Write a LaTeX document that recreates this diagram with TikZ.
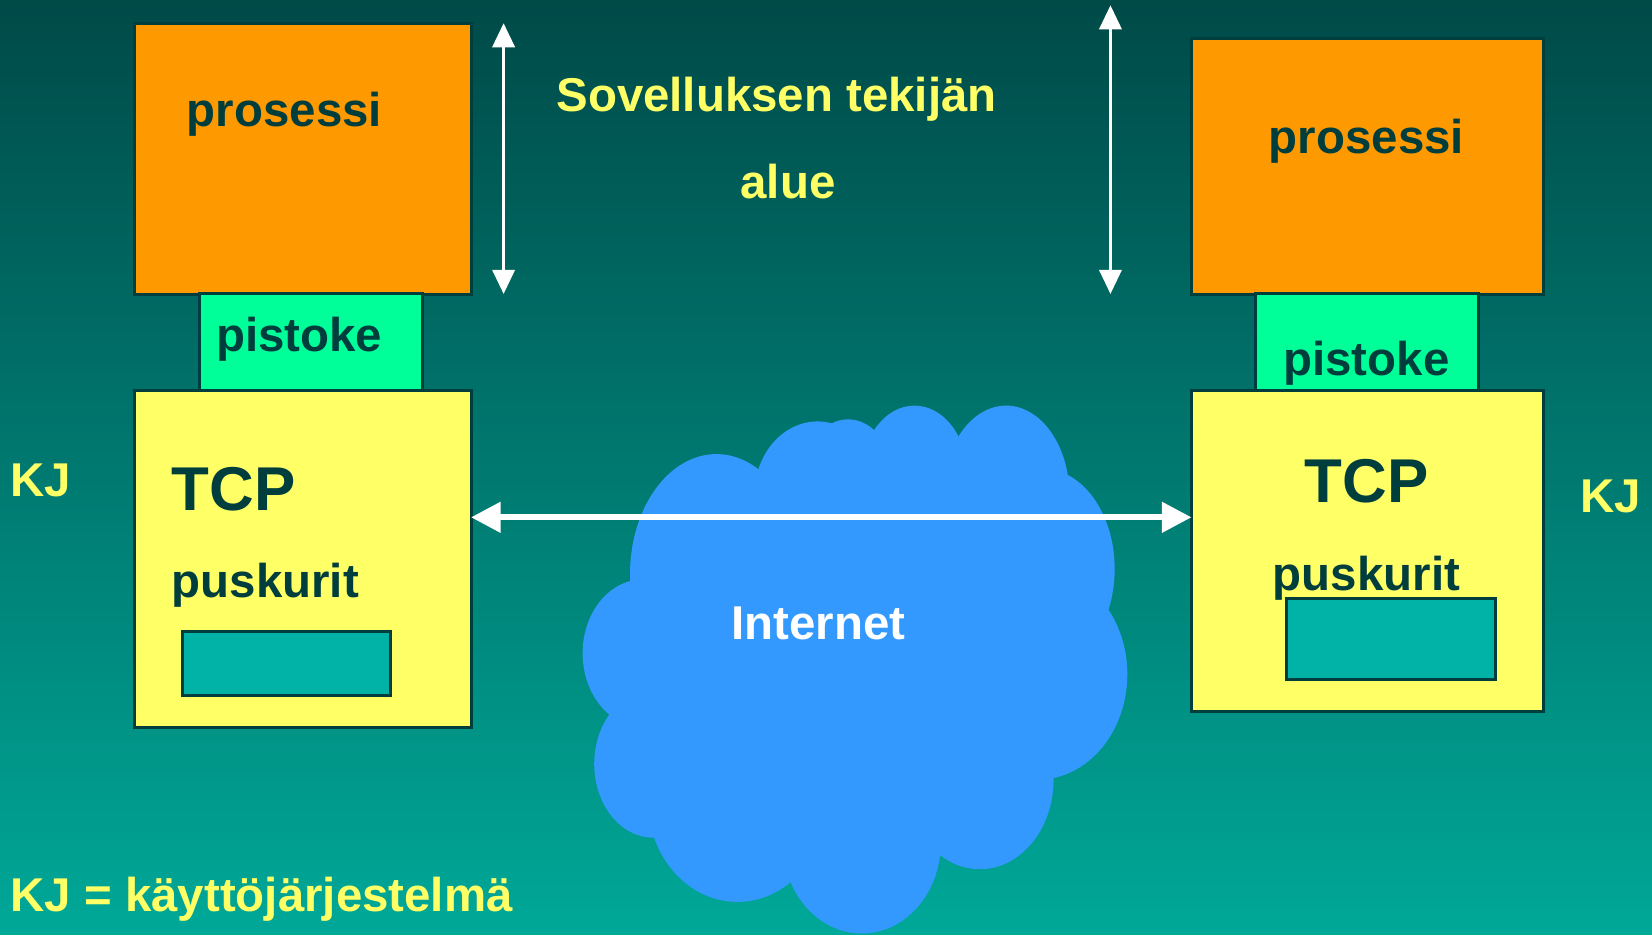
\documentclass[tikz,border=0pt]{standalone}
\usepackage{fontspec}
\setmainfont{Liberation Sans}
\usetikzlibrary{arrows.meta}

\definecolor{bgtop}{RGB}{0,74,72}
\definecolor{bgbot}{RGB}{0,168,152}
\definecolor{edge}{RGB}{0,62,62}
\definecolor{procfill}{RGB}{255,153,0}
\definecolor{sockfill}{RGB}{0,255,153}
\definecolor{tcpfill}{RGB}{255,255,102}
\definecolor{buffill}{RGB}{0,179,166}
\definecolor{cloudfill}{RGB}{51,153,255}
\definecolor{ytext}{RGB}{255,255,102}

\begin{document}
\begin{tikzpicture}[x=0.01cm,y=0.01cm,
  every node/.style={inner sep=0pt,outer sep=0pt},
  box/.style={draw=edge,line width=0.8pt,rectangle},
  procbox/.style={box,fill=procfill},
  sockbox/.style={box,fill=sockfill},
  tcpbox/.style={box,fill=tcpfill},
  bufbox/.style={box,fill=buffill},
  lbl/.style={text=edge,font=\fontsize{12.8}{15}\selectfont\bfseries},
  biglbl/.style={text=edge,font=\fontsize{16.7}{20}\selectfont\bfseries},
  ylbl/.style={text=ytext,font=\fontsize{12.8}{15}\selectfont\bfseries},
  varrow/.style={white,line width=0.8pt,{Triangle[length=6.5pt,width=6pt]}-{Triangle[length=6.5pt,width=6pt]}},
  harrow/.style={white,line width=1.6pt,{Triangle[length=8pt,width=8pt]}-{Triangle[length=8pt,width=8pt]}}]
\useasboundingbox (0,0) rectangle (1568,-887);
\shade [top color=bgtop,bottom color=bgbot] (0,0) rectangle (1568,-887);
% internet cloud
\foreach \cx/\cy/\rx/\ry in {680/545/82/114,776/470/60/70,805/460/45/62,868/450/50/65,
  955/470/60/85,990/540/68/95,985/640/85/100,930/740/70/85,818/800/75/86,
  700/760/85/96,620/725/56/70,610/620/57/70,810/630/200/190}
  \fill [cloudfill] (\cx,-\cy) ellipse [x radius=\rx,y radius=\ry];
% left host
\node [procbox,minimum width=3.19cm,minimum height=2.57cm] (procL) at (287.5,-150.5) {};
\node [sockbox,minimum width=2.12cm,minimum height=0.92cm] (sockL) at (295,-325) {};
\node [tcpbox,minimum width=3.19cm,minimum height=3.19cm] (tcpL) at (287.5,-530.5) {};
\node [bufbox,minimum width=1.98cm,minimum height=0.61cm] (bufL) at (272,-629.5) {};
% right host
\node [procbox,minimum width=3.34cm,minimum height=2.42cm] (procR) at (1298,-158) {};
\node [sockbox,minimum width=2.11cm,minimum height=0.92cm] (sockR) at (1297.5,-325) {};
\node [tcpbox,minimum width=3.34cm,minimum height=3.04cm] (tcpR) at (1298,-523) {};
\node [bufbox,minimum width=1.98cm,minimum height=0.77cm] (bufR) at (1320,-606.5) {};
% arrows
\coordinate (appLtop) at (478,-22);
\coordinate (appLbot) at (478,-279);
\coordinate (appRtop) at (1054,-5);
\coordinate (appRbot) at (1054,-279);
\coordinate (lineY) at (0,-491);
\draw [varrow] (appLtop) -- (appLbot);
\draw [varrow] (appRtop) -- (appRbot);
\draw [harrow] (tcpL.east |- lineY) -- (tcpR.west |- lineY);
% labels
\node [lbl,anchor=base] (procLtxt) at (270,-120) {prosessi};
\node [lbl,anchor=base] (sockLtxt) at (284,-334) {pistoke};
\node [biglbl,anchor=base west] (tcpLtxt) at (163,-485) {TCP};
\node [lbl,anchor=base west] (bufLtxt) at (163,-567) {puskurit};
\node [lbl,anchor=base] (procRtxt) at (1297,-146) {prosessi};
\node [lbl,anchor=base] (sockRtxt) at (1297,-356) {pistoke};
\node [biglbl,anchor=base] (tcpRtxt) at (1297,-477) {TCP};
\node [lbl,anchor=base] (bufRtxt) at (1297,-560) {puskurit};
\node [ylbl,anchor=base] (areaA) at (737,-106) {Sovelluksen tekijän};
\node [ylbl,anchor=base] (areaB) at (748,-188) {alue};
\node [ylbl,anchor=base west] (kjL) at (10,-471) {KJ};
\node [ylbl,anchor=base west] (kjR) at (1500,-486) {KJ};
\node [ylbl,anchor=base west] (kjdef) at (10,-865) {KJ = käyttöjärjestelmä};
\node [ylbl,text=white,anchor=base] (net) at (777,-607) {Internet};
\end{tikzpicture}
\end{document}
